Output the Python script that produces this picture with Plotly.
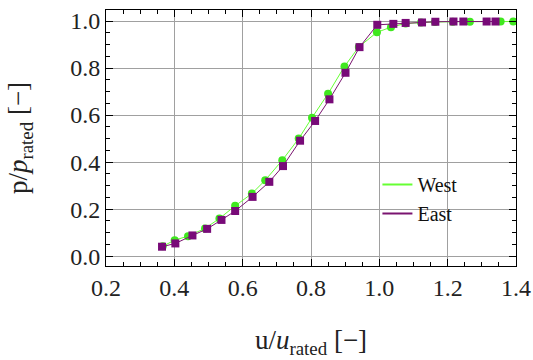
import plotly.graph_objects as go

east_x = [0.364, 0.403, 0.453, 0.496, 0.538, 0.578, 0.629, 0.678, 0.718, 0.768, 0.812, 0.854,
          0.901, 0.942, 0.994, 1.041, 1.077, 1.125, 1.164, 1.217, 1.246, 1.314, 1.340]
east_y = [0.040, 0.054, 0.088, 0.116, 0.154, 0.192, 0.252, 0.316, 0.383, 0.491, 0.575, 0.667,
          0.780, 0.889, 0.984, 0.988, 0.992, 0.994, 0.997, 0.998, 0.998, 0.998, 0.998]

west_x = [0.366, 0.401, 0.440, 0.490, 0.532, 0.578, 0.627, 0.666, 0.716, 0.764, 0.803, 0.850,
          0.898, 0.940, 0.993, 1.034, 1.077, 1.122, 1.163, 1.215, 1.265, 1.355, 1.392]
west_y = [0.042, 0.068, 0.085, 0.118, 0.160, 0.214, 0.266, 0.323, 0.408, 0.500, 0.589, 0.691,
          0.807, 0.890, 0.952, 0.974, 0.990, 0.994, 0.996, 0.997, 0.997, 0.998, 0.998]

x_ticks = [0.2, 0.4, 0.6, 0.8, 1.0, 1.2, 1.4]
y_ticks = [0.0, 0.2, 0.4, 0.6, 0.8, 1.0]

GREEN = "#3fe81e"
GREEN_LINE = "#66ff33"
PURPLE = "#780a78"
PURPLE_LINE = "#7a1470"
FONT = "Liberation Serif"

fig = go.Figure()
fig.add_trace(go.Scatter(x=west_x, y=west_y, mode="lines+markers", showlegend=False,
                         line=dict(color=GREEN_LINE, width=1),
                         marker=dict(symbol="circle", size=8, color=GREEN)))
fig.add_trace(go.Scatter(x=east_x, y=east_y, mode="lines+markers", showlegend=False,
                         line=dict(color=PURPLE_LINE, width=1),
                         marker=dict(symbol="square", size=8, color=PURPLE)))
fig.add_trace(go.Scatter(x=[None], y=[None], mode="lines", name="West",
                         line=dict(color=GREEN_LINE, width=2)))
fig.add_trace(go.Scatter(x=[None], y=[None], mode="lines", name="East",
                         line=dict(color=PURPLE_LINE, width=2)))

axis_common = dict(showgrid=True, gridcolor="#a0a0a0", gridwidth=1, zeroline=False,
                   showline=True, linecolor="black", linewidth=1, mirror="ticks",
                   ticks="inside", ticklen=7, tickcolor="black", automargin=False,
                   ticklabeloverflow="allow",
                   tickfont=dict(family=FONT, size=24, color="#222"),
                   minor=dict(ticks="inside", ticklen=4, tickcolor="black", showgrid=False))

fig.update_xaxes(range=[0.2, 1.4], tickvals=x_ticks, ticktext=[f"{v:.1f}" for v in x_ticks],
                 minor_dtick=0.05,
                 title=dict(text="u/<i>u</i><sub>rated</sub> [−]", font=dict(family=FONT, size=27, color="#222"),
                            standoff=30),
                 **axis_common)
fig.update_yaxes(range=[-0.042, 1.047], tickvals=y_ticks, ticktext=[f"{v:.1f}" for v in y_ticks],
                 minor_dtick=0.05,
                 title=dict(text="p/<i>p</i><sub>rated</sub> [−]", font=dict(family=FONT, size=27, color="#222"),
                            standoff=34),
                 **axis_common)

fig.update_layout(width=533, height=360, margin=dict(l=106, r=17, t=10, b=94),
                  font=dict(family=FONT),
                  paper_bgcolor="white", plot_bgcolor="white",
                  legend=dict(x=0.662, y=0.395, xanchor="left", yanchor="top",
                              bgcolor="rgba(0,0,0,0)", font=dict(family=FONT, size=20, color="#111"),
                              itemwidth=30, tracegroupgap=0))

# remove the browser's default 8px page margin so the figure fills the window exactly
fig.write_html("out.html", config={"displayModeBar": False},
               post_script="document.body.style.margin='0';")
